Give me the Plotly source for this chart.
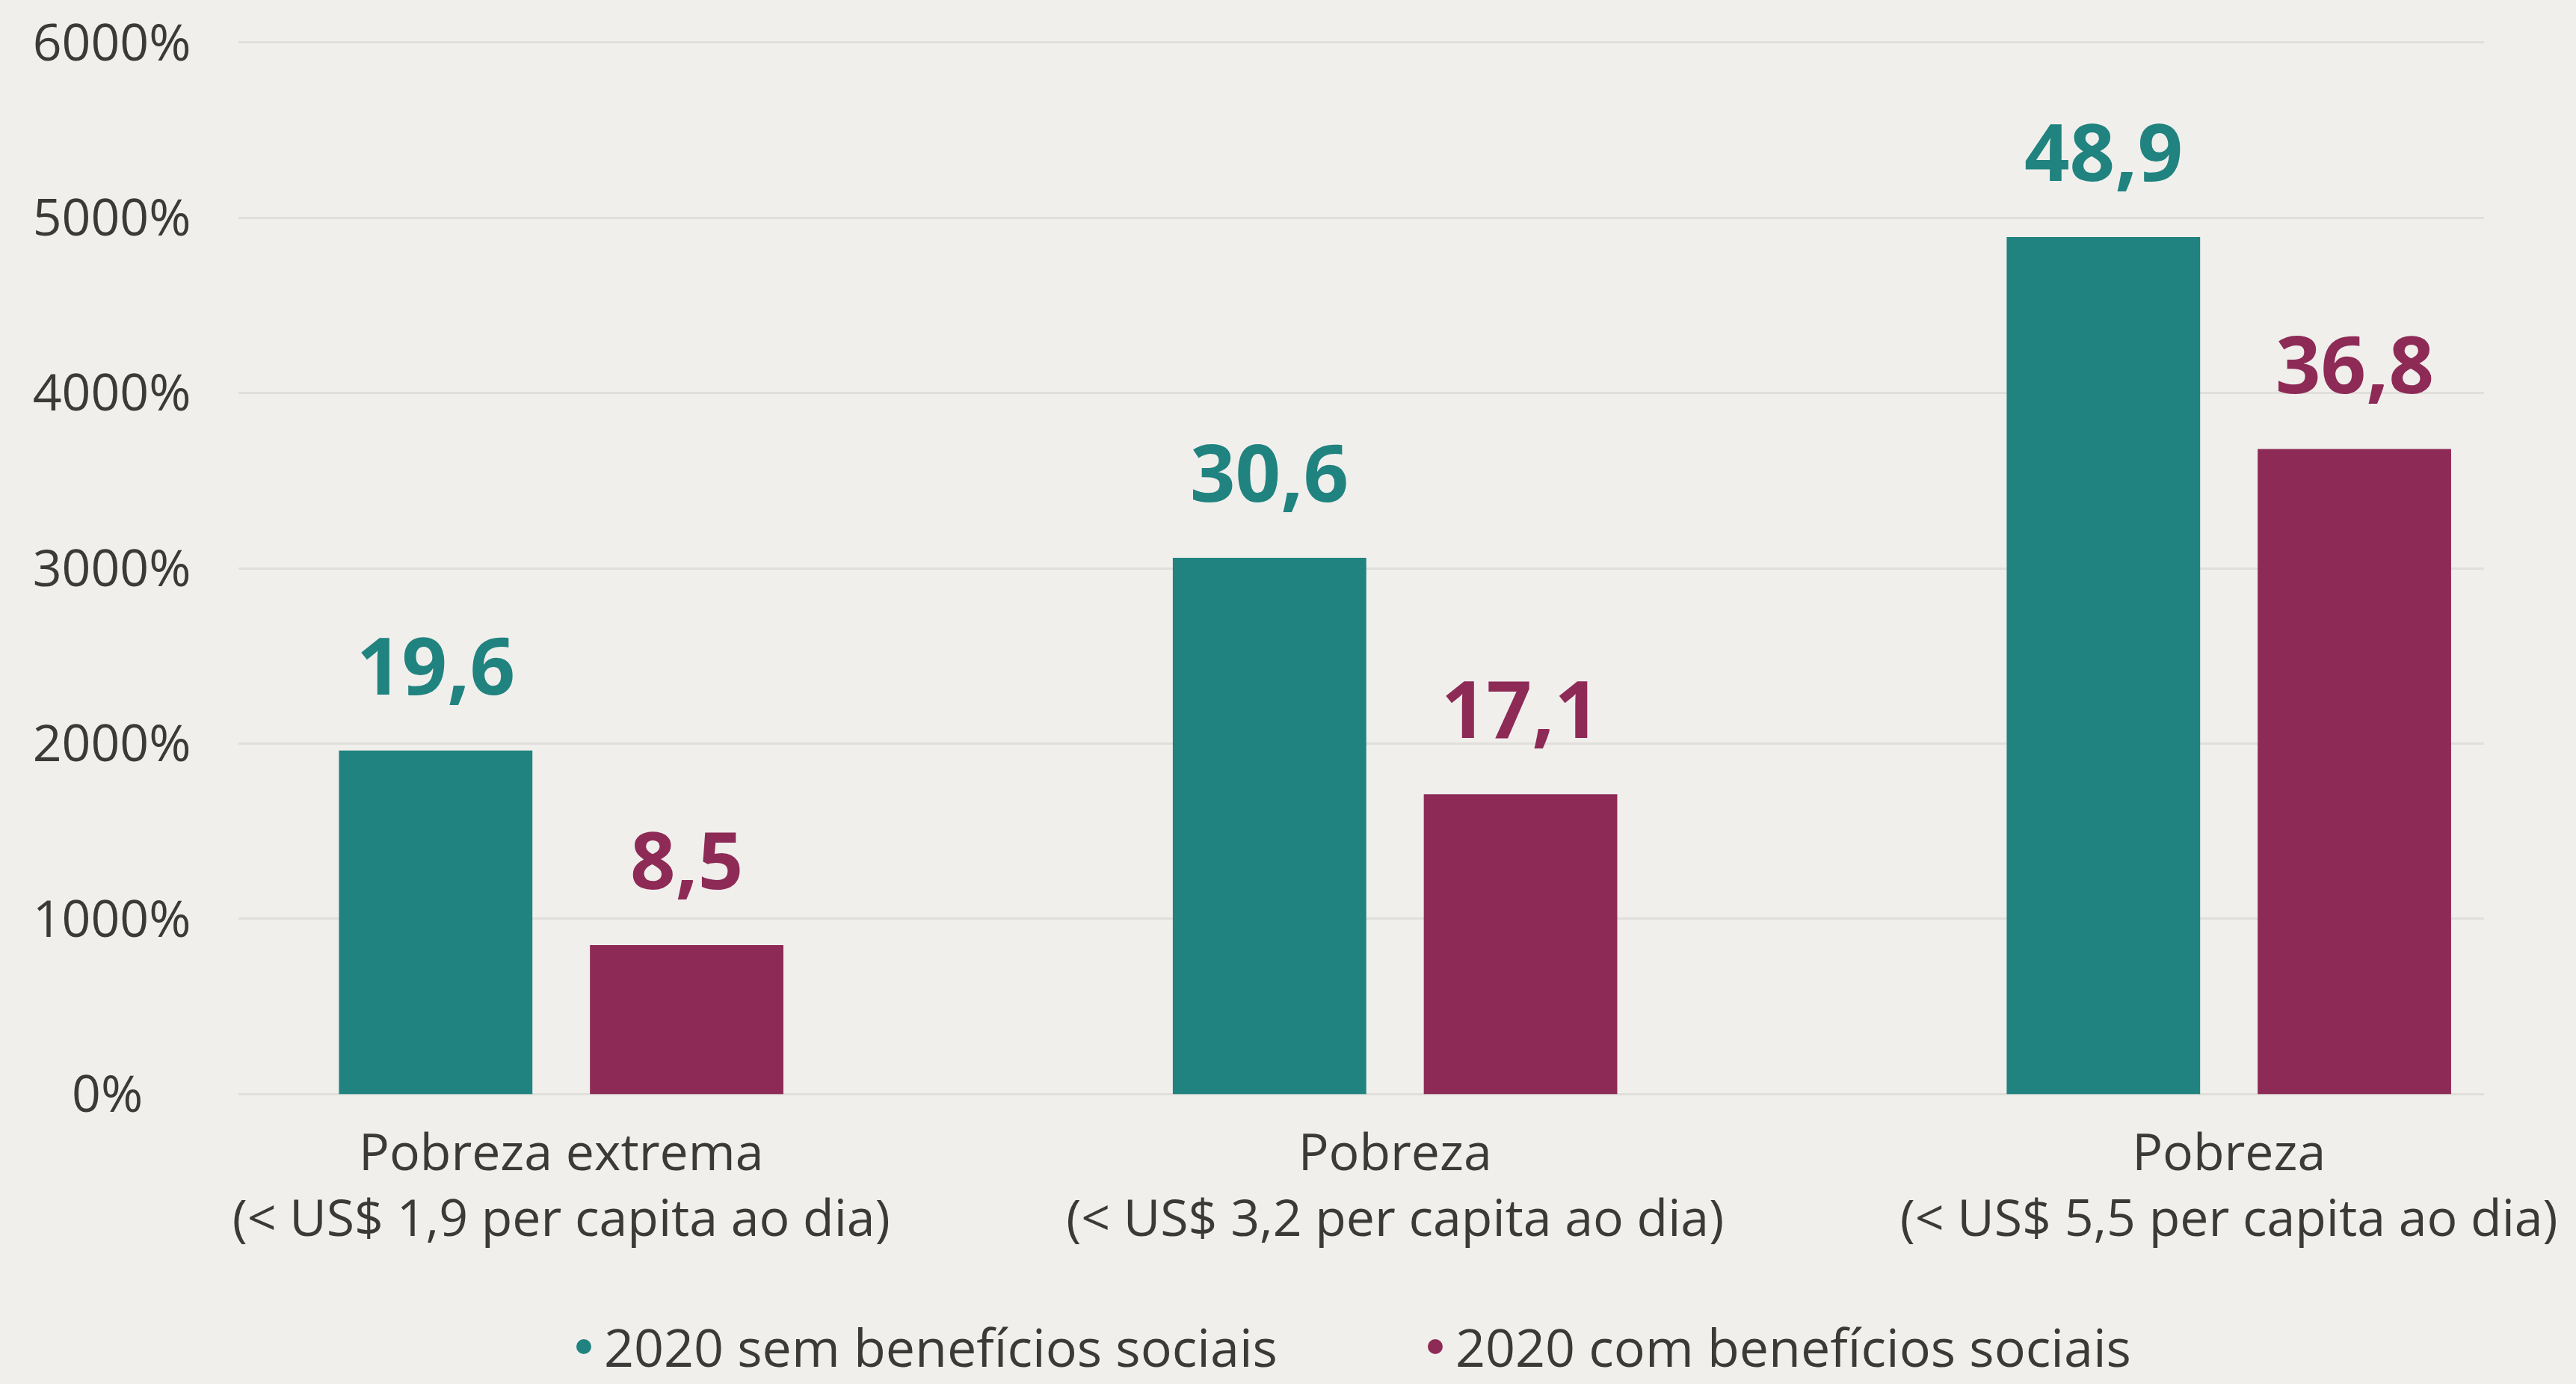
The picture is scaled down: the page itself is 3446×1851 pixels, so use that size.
import plotly.graph_objects as go

# ---------------- data ----------------
categories = [
    "Pobreza extrema<br>(&lt; US$ 1,9 per capita ao dia)",
    "Pobreza<br>(&lt; US$ 3,2 per capita ao dia)",
    "Pobreza<br>(&lt; US$ 5,5 per capita ao dia)",
]
series_names = ["2020 sem benefícios sociais", "2020 com benefícios sociais"]
sem_beneficios = [19.6, 30.6, 48.9]
com_beneficios = [8.5, 17.1, 36.8]
y_tick_vals = [0, 10, 20, 30, 40, 50, 60]
y_tick_text = ["0%\u00a0\u00a0\u00a0\u2009", "1000%", "2000%", "3000%", "4000%", "5000%", "6000%"]

# ---------------- style ----------------
TEAL = "#20837F"
PURPLE = "#8E2A56"
TEXT = "#3C3A38"
BG = "#F0EFEC"
GRID = "#E0DFDB"
FONT = "Open Sans"

W, H = 3446, 1851
BAR_W = 0.232
HALF_GAP = 0.0345
OFF_A = -(BAR_W + HALF_GAP)
OFF_B = HALF_GAP
CENTER_A = OFF_A + BAR_W / 2
CENTER_B = OFF_B + BAR_W / 2


def fmt(v):
    return f"{v:.1f}".replace(".", ",")


fig = go.Figure()
fig.add_trace(go.Bar(x=categories, y=sem_beneficios, name=series_names[0],
                     marker=dict(color=TEAL, line=dict(width=0)),
                     width=BAR_W, offset=OFF_A, showlegend=False, hoverinfo="skip"))
fig.add_trace(go.Bar(x=categories, y=com_beneficios, name=series_names[1],
                     marker=dict(color=PURPLE, line=dict(width=0)),
                     width=BAR_W, offset=OFF_B, showlegend=False, hoverinfo="skip"))

# legend entries with round markers
for name, col in zip(series_names, [TEAL, PURPLE]):
    fig.add_trace(go.Scatter(x=[None], y=[None], mode="markers", name=name,
                             marker=dict(color=col, size=16, symbol="circle",
                                         line=dict(color=col, width=4))))

annotations = []
for vals, center, col in [(sem_beneficios, CENTER_A, TEAL), (com_beneficios, CENTER_B, PURPLE)]:
    for i, v in enumerate(vals):
        annotations.append(dict(
            x=i + center, y=v, xref="x", yref="y",
            text=f"<b>{fmt(v)}</b>", showarrow=False,
            xanchor="center", yanchor="bottom", yshift=42,
            font=dict(family=FONT, size=106, color=col, weight=700),
        ))

fig.update_layout(
    width=W, height=H,
    margin=dict(l=319, r=123, t=54, b=385, pad=0),
    paper_bgcolor=BG, plot_bgcolor=BG,
    barmode="overlay",
    font=dict(family=FONT, color=TEXT, size=68),
    showlegend=True,
    legend=dict(orientation="h", xref="paper", x=0.1448, xanchor="left",
                yref="container", y=0.027, yanchor="middle",
                entrywidth=1080, entrywidthmode="pixels", itemwidth=44,
                font=dict(family=FONT, size=70, color=TEXT), bgcolor="rgba(0,0,0,0)",
                itemsizing="trace", traceorder="normal"),
    annotations=annotations,
    xaxis=dict(type="category", range=[-0.387, 2.306], showgrid=False, zeroline=False,
               showline=False, ticks="outside", ticklen=16, tickcolor="rgba(0,0,0,0)",
               tickfont=dict(family=FONT, size=68, color=TEXT), fixedrange=True,
               automargin=False),
    yaxis=dict(range=[-0.12, 60.12], tickvals=y_tick_vals, ticktext=y_tick_text,
               showgrid=True, gridcolor=GRID, gridwidth=3, zeroline=False, showline=False,
               ticks="outside", ticklen=49, tickcolor="rgba(0,0,0,0)",
               tickfont=dict(family=FONT, size=68, color=TEXT), fixedrange=True,
               automargin=False),
)

fig.write_html("out.html", config={"displayModeBar": False},
               post_script="document.body.style.margin='0';document.body.style.overflow='hidden';")
